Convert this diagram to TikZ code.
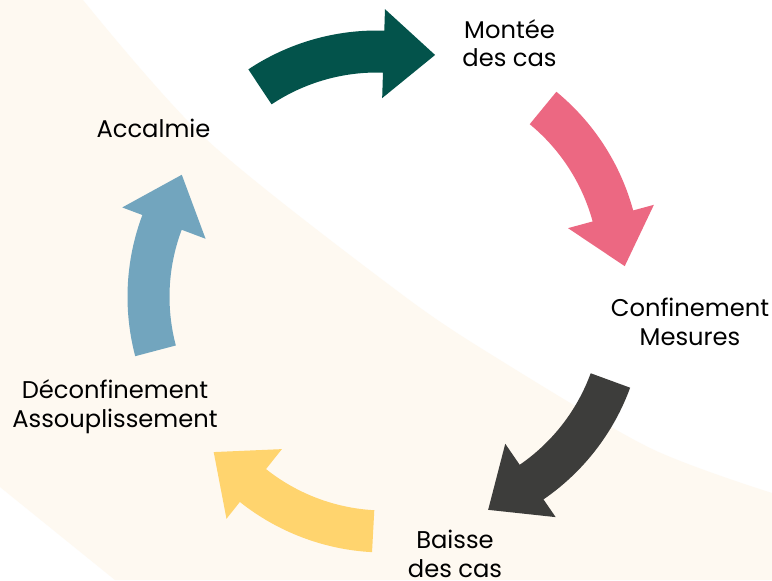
\documentclass[tikz,border=0pt]{standalone}
\usepackage{fontspec}
\setmainfont{Poppins}
\usepackage{xcolor}
\usepackage{tikz}
\usetikzlibrary{positioning}

\definecolor{cyclebg}{HTML}{FEF9F1}
\definecolor{arrteal}{HTML}{03534B}
\definecolor{arrpink}{HTML}{EC6882}
\definecolor{arrdark}{HTML}{3D3D3B}
\definecolor{arryellow}{HTML}{FFD46E}
\definecolor{arrblue}{HTML}{72A5BE}

\begin{document}
\begin{tikzpicture}[
  x=0.5pt, y=0.5pt,
  lbl/.style={align=center, anchor=base, inner sep=0pt, text=black, font=\fontsize{12.1}{14.2}\selectfont}
]
\useasboundingbox (0,0) rectangle (772,580);
% background band
\fill[white] (0,0) rectangle (772,580);
\fill[cyclebg] (0,580) -- plot[smooth] coordinates {(83,580) (207,440) (400,287) (500,220) (650,132) (772,87)}
  -- (772,0) -- (115,0) -- (0,93) -- cycle;

% cycle arrows: centre x / centre y / tail angle / colour
\foreach \cx/\cy/\a/\col in {377/317/123.6/arrteal, 408.8/308.6/50.6/arrpink, 411.8/272.2/-20.1/arrdark,
                             384.6/260/-93.1/arryellow, 360/283.2/-165.2/arrblue}{
  \fill[\col, shift={(\cx,\cy)}] (\a:190.5) arc[start angle=\a, end angle=\a-35.4, radius=190.5]
    -- (\a-35.4:165) -- (\a-49.2:216) -- (\a-35.4:254) -- (\a-35.4:232.5)
    arc[start angle=\a-35.4, end angle=\a, radius=232.5] -- cycle;
}

% labels (base = baseline of the last line)
\node[lbl] (montee) at (509.5,513.3) {Montée\\des cas};
\node[lbl] (confinement) at (690,235) {Confinement\\Mesures};
\node[lbl] (baisse) at (455,3) {Baisse\\des cas};
\node[lbl] (deconfinement) at (115,152.7) {Déconfinement\\Assouplissement};
\node[lbl] (accalmie) at (153.5,443) {Accalmie};
\end{tikzpicture}
\end{document}
